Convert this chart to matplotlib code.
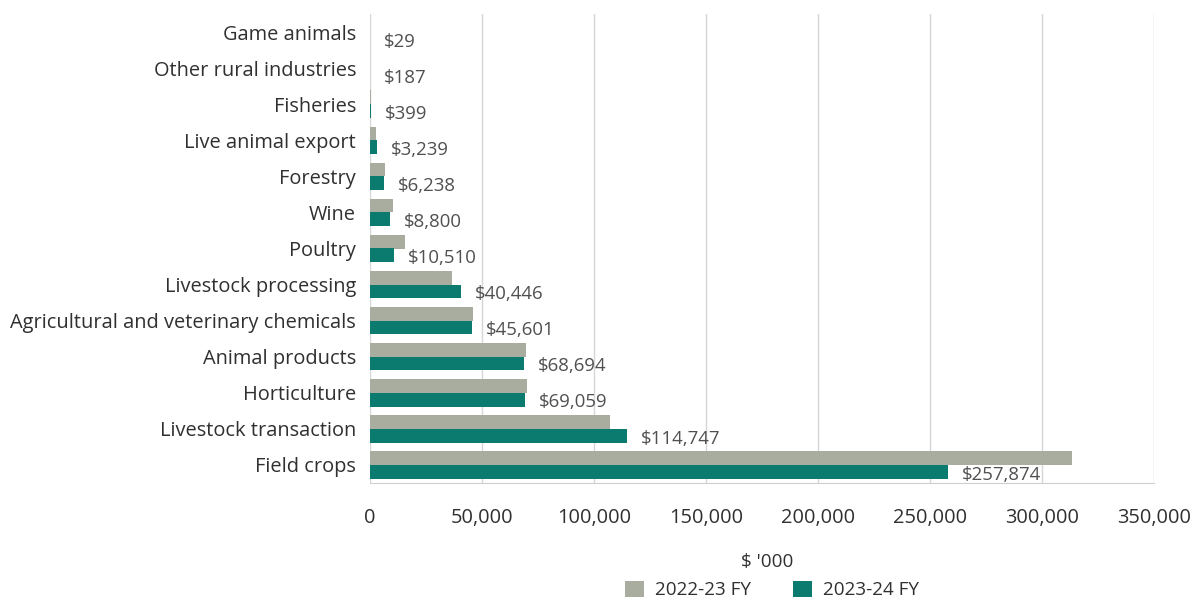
import matplotlib
matplotlib.use("Agg")
import matplotlib.pyplot as plt
import numpy as np

plt.rcParams['font.family'] = ['Open Sans', 'DejaVu Sans']

categories = ["Game animals", "Other rural industries", "Fisheries", "Live animal export",
              "Forestry", "Wine", "Poultry", "Livestock processing",
              "Agricultural and veterinary chemicals", "Animal products", "Horticulture",
              "Livestock transaction", "Field crops"]
fy2223 = [30, 200, 420, 2700, 6500, 10300, 15500, 36600, 46000, 69600, 70000, 107000, 313600]
fy2324 = [29, 187, 399, 3239, 6238, 8800, 10510, 40446, 45601, 68694, 69059, 114747, 257874]
labels_2324 = ["$29", "$187", "$399", "$3,239", "$6,238", "$8,800", "$10,510", "$40,446",
               "$45,601", "$68,694", "$69,059", "$114,747", "$257,874"]
xticks = [0, 50000, 100000, 150000, 200000, 250000, 300000, 350000]
xtick_labels = ["0", "50,000", "100,000", "150,000", "200,000", "250,000", "300,000", "350,000"]
series_names = ["2022-23 FY", "2023-24 FY"]

gray = "#a9ad9f"
teal = "#0b7a6f"

fig = plt.figure(figsize=(11.95, 6.03), dpi=100)
ax = fig.add_axes([370/1195, 1-483/603, (1154-370)/1195, (483-14)/603])

n = len(categories)
y = np.arange(n)[::-1]  # Game animals at top
h = 0.38
ax.barh(y + h/2, fy2223, height=h, color=gray, label=series_names[0], zorder=3)
ax.barh(y - h/2, fy2324, height=h, color=teal, label=series_names[1], zorder=3)

for yi, v, lab in zip(y, fy2324, labels_2324):
    ax.annotate(lab, xy=(v, yi - h/2), xytext=(10, -2), textcoords="offset points",
                va="center", ha="left", fontsize=13.4, color="#505050")

ax.set_ylim(-0.5, n - 0.5)
ax.set_xlim(0, 350000)
ax.set_yticks(y)
ax.set_yticklabels(categories, fontsize=14.4, color="#303030")
ax.set_xticks(xticks)
ax.set_xticklabels(xtick_labels, fontsize=14.4, color="#303030")
ax.tick_params(axis='x', length=0, pad=18)
ax.tick_params(axis='y', length=0, pad=10)
ax.grid(axis='x', color="#d6d6d6", linewidth=1, zorder=0)
for s in ["top", "right", "left"]:
    ax.spines[s].set_visible(False)
ax.spines["bottom"].set_color("#cfcfcf")

fig.text(767/1195, 1-562/603, "$ '000", ha="center", va="center", fontsize=13.6, color="#303030")
fig.legend(loc="center", bbox_to_anchor=(772/1195, 1-590/603), ncol=2, frameon=False,
           fontsize=13.6, handlelength=1.0, handleheight=1.0, columnspacing=2.2,
           handletextpad=0.6, labelcolor="#303030", borderpad=0.1)

fig.savefig("out.png", dpi=100)
